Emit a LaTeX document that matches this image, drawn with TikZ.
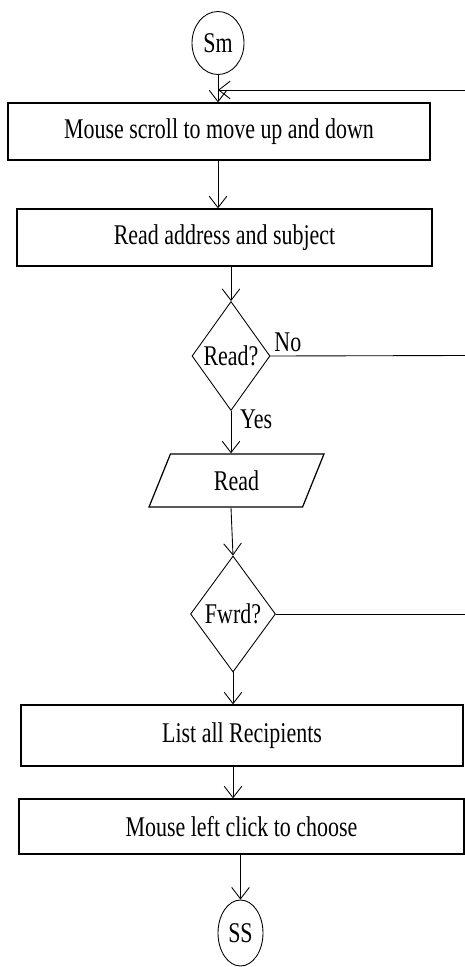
\documentclass[tikz,border=0pt]{standalone}
\usepackage{fontspec}
\setmainfont{Liberation Serif}
\usepackage{graphicx}
\usepackage{tikz}
\usetikzlibrary{positioning, shapes.geometric, arrows.meta}
\newcommand{\stx}[1]{\scalebox{1}[1.3]{#1}} % text in the picture is drawn a bit tall
\tikzset{%
  box/.style={draw, rectangle, line width=0.7pt, inner sep=0pt},
  decision/.style={draw, diamond, aspect=0.7, line width=0.5pt, inner sep=0pt},
  io/.style={draw, trapezium, trapezium left angle=68, trapezium right angle=112,
    trapezium stretches body, line width=0.7pt, inner xsep=0pt, inner ysep=0.33cm},
  term/.style={draw, ellipse, line width=0.5pt, inner sep=0pt},
  link/.style={draw, line width=0.5pt},
  flow/.style={link, -{Straight Barb[length=6.5pt,width=10pt]}}
}

\begin{document}
\begin{tikzpicture}[font=\fontsize{12.5}{14}\selectfont]
\useasboundingbox (0,0) rectangle (9.3,-19.34);

\node[term, minimum width=1.04cm, minimum height=1.26cm] (sm) at (4.36,-0.86) {\stx{Sm}};
\node[box, minimum width=8.44cm, minimum height=1.14cm] (scroll) at (4.38,-2.63) {\stx{Mouse scroll to move up and down}};
\node[box, minimum width=8.30cm, minimum height=1.14cm] (addr) at (4.49,-4.75) {\stx{Read address and subject}};
\node[decision, minimum width=1.56cm, minimum height=2.18cm] (readq) at (4.62,-7.12) {\stx{Read?}};
\node[io, minimum width=3.5cm] (readp) at (4.73,-9.61) {\stx{Read}};
\node[decision, minimum width=1.70cm, minimum height=2.32cm] (fwrdq) at (4.66,-12.28) {\stx{Fwrd?}};
\node[box, minimum width=8.84cm, minimum height=1.22cm] (recip) at (4.84,-14.71) {\stx{List all Recipients}};
\node[box, minimum width=8.90cm, minimum height=1.10cm] (click) at (4.83,-16.53) {\stx{Mouse left click to choose}};
\node[term, minimum width=0.90cm, minimum height=1.32cm] (ss) at (4.81,-18.66) {\stx{SS}};

% free ends at the right margin
\coordinate (loopin) at (9.3,-1.80);
\coordinate (readno) at (9.3,-7.11);
\coordinate (fwrdno) at (9.3,-12.28);

\draw[flow] (sm) -- (sm |- scroll.north);
\draw[flow] (loopin) -- (sm |- loopin);
\draw[flow] (sm |- scroll.south) -- (sm |- addr.north);
\draw[flow] (readq.north |- addr.south) -- (readq.north);

\draw[link] (readq.east) -- node[pos=0, above right, inner sep=2pt] {\stx{No}} (readno);
\draw[flow] (readq.south) -- node[pos=0.2, right=5pt, inner sep=0pt] {\stx{Yes}} (readq.south |- readp.north);
\draw[flow] (readq.south |- readp.south) -- (fwrdq.north);

\draw[link] (fwrdq.east) -- (fwrdno);
\draw[flow] (fwrdq.south) -- (fwrdq.south |- recip.north);
\draw[flow] (fwrdq.south |- recip.south) -- (fwrdq.south |- click.north);
\draw[flow] (ss.north |- click.south) -- (ss.north);

\end{tikzpicture}
\end{document}
